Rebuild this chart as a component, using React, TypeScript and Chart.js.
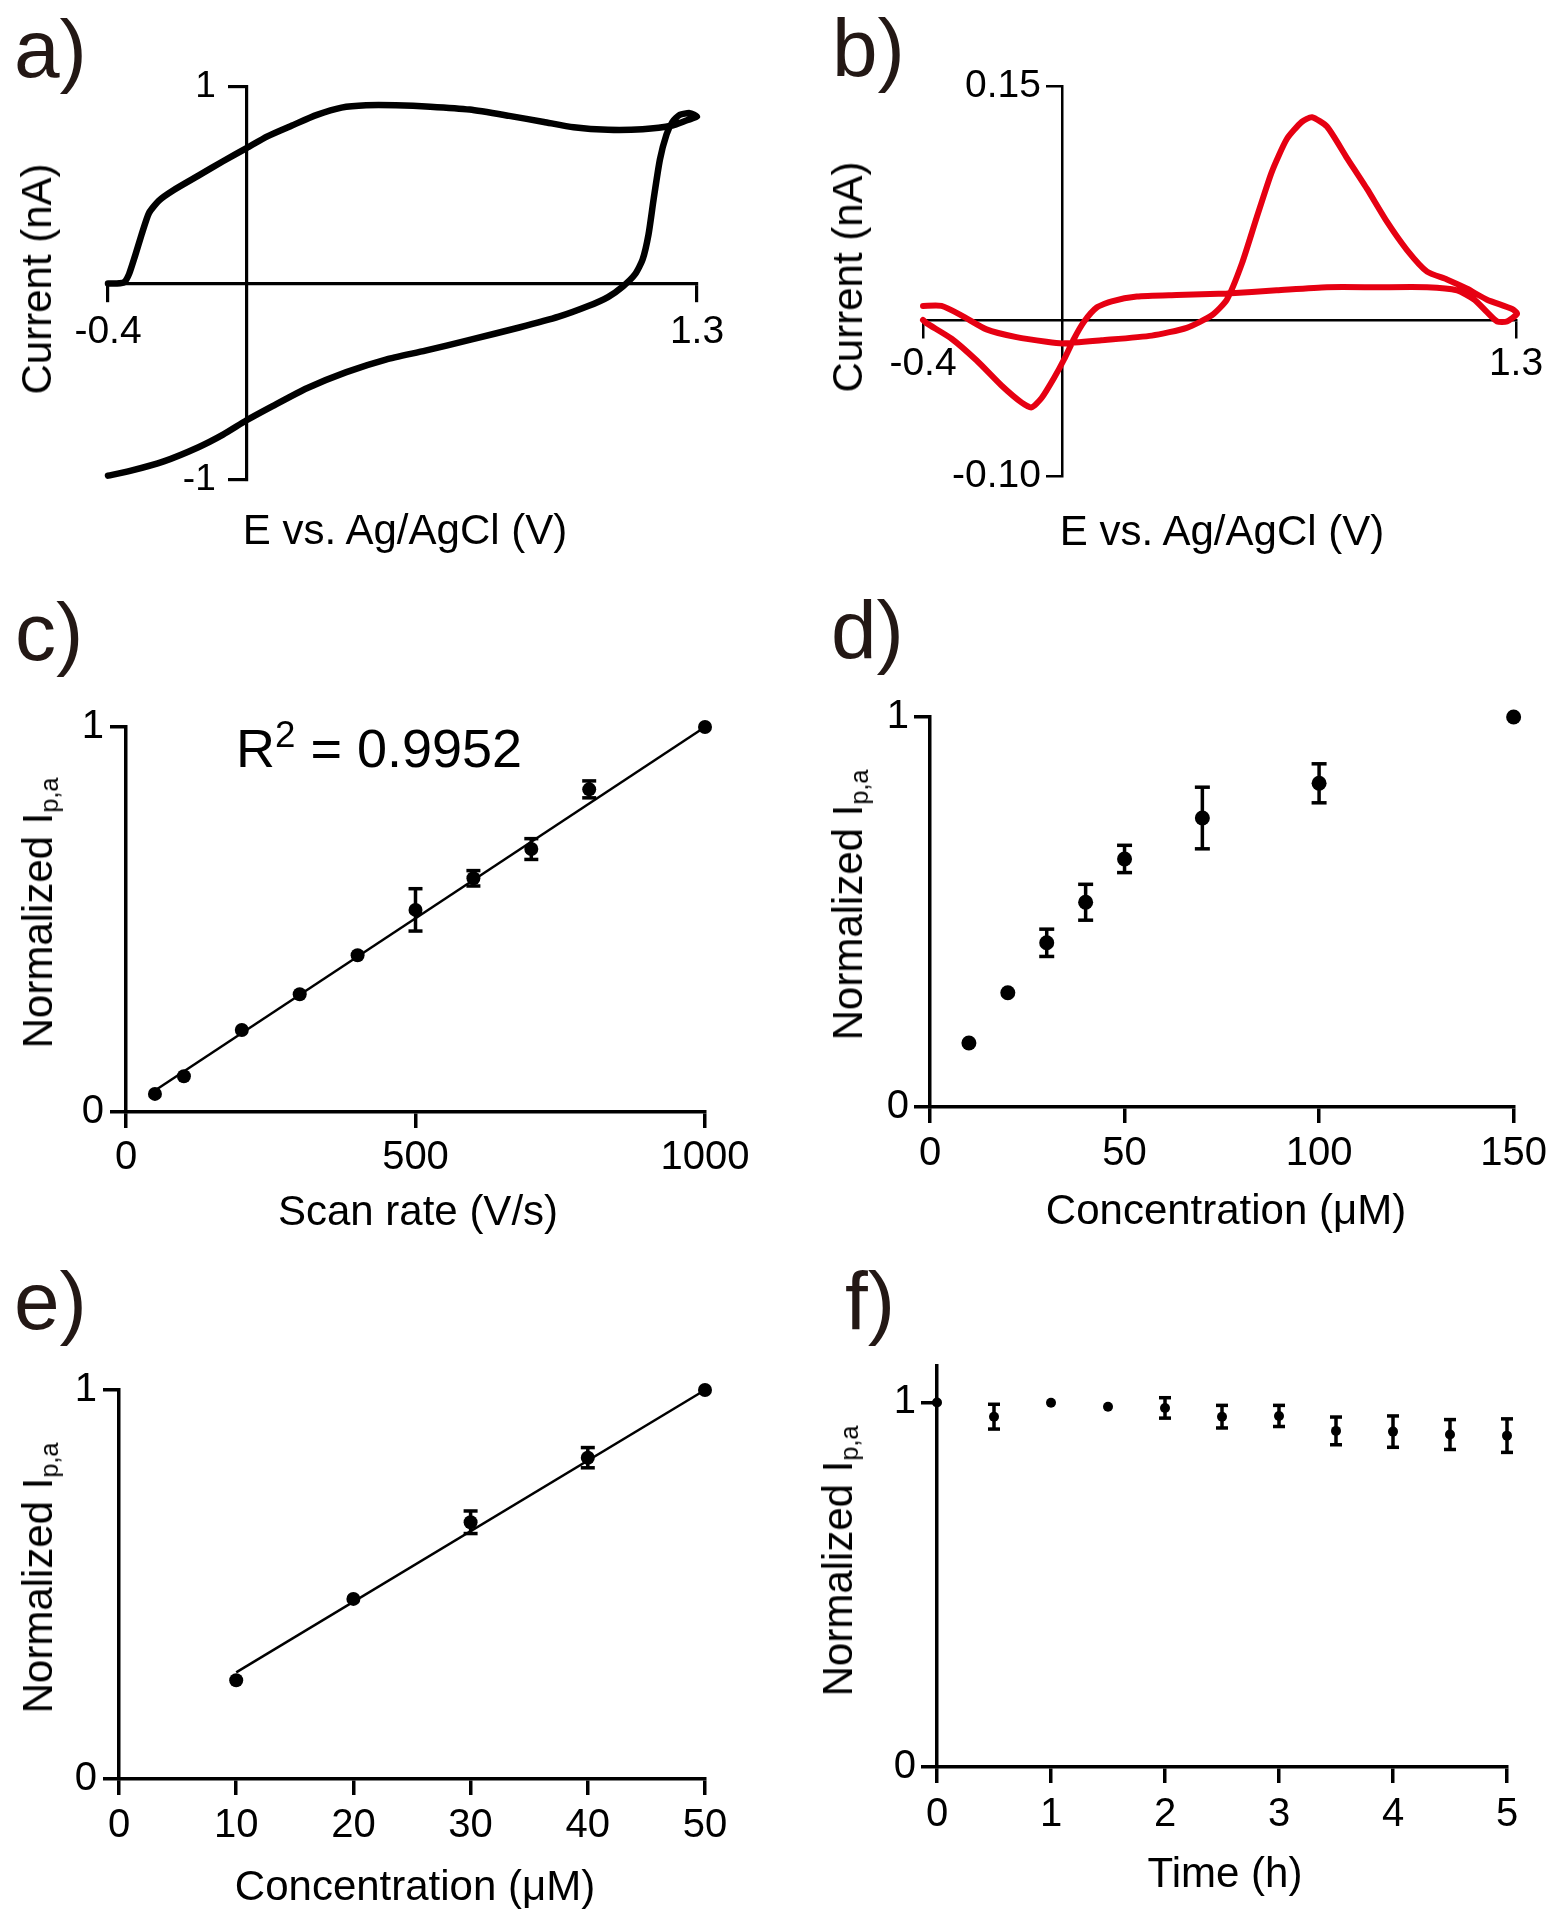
import React, { useEffect, useRef } from 'react';
import { Chart, registerables } from 'chart.js';

Chart.register(...registerables);

const FONT = '"Liberation Sans", Arial, Helvetica, sans-serif';
const INK = '#000000';
const LETTER_INK = '#231815';
const RED = '#e60012';

// ---------- Panel a: cyclic voltammogram (black) ----------
const cvA_E = [-0.400, -0.339, -0.239, -0.139, -0.068, 0.000, 0.075, 0.174, 0.288, 0.402, 0.516, 0.644, 0.787, 0.901, 0.986, 1.043, 1.086, 1.122, 1.143, 1.160, 1.175, 1.193, 1.212, 1.229, 1.250, 1.279, 1.300, 1.271, 1.229, 1.143, 1.043, 0.944, 0.858, 0.758, 0.644, 0.530, 0.431, 0.345, 0.274, 0.203, 0.131, 0.060, 0.000, -0.068, -0.139, -0.210, -0.253, -0.282, -0.303, -0.322, -0.339, -0.353, -0.374, -0.400];
const cvA_I = [-0.978, -0.955, -0.905, -0.833, -0.769, -0.696, -0.624, -0.533, -0.451, -0.387, -0.342, -0.287, -0.224, -0.169, -0.115, -0.069, -0.015, 0.049, 0.122, 0.249, 0.431, 0.631, 0.758, 0.822, 0.858, 0.867, 0.849, 0.831, 0.804, 0.785, 0.782, 0.795, 0.822, 0.853, 0.885, 0.900, 0.907, 0.907, 0.895, 0.858, 0.804, 0.749, 0.689, 0.622, 0.549, 0.476, 0.422, 0.358, 0.249, 0.140, 0.049, 0.007, 0.000, 0.000];
const aXTicks = [-0.4, 1.3];
const aXTickLabels = ['-0.4', '1.3'];
const aYTicks = [-1, 1];
const aYTickLabels = ['-1', '1'];

// ---------- Panel b: cyclic voltammogram (red) ----------
const cvB_E = [-0.40, -0.347, -0.29, -0.218, -0.132, -0.046, 0.001, 0.112, 0.256, 0.356, 0.428, 0.471, 0.514, 0.557, 0.600, 0.643, 0.686, 0.715, 0.758, 0.815, 0.873, 0.930, 0.987, 1.045, 1.102, 1.160, 1.217, 1.289, 1.303, 1.274, 1.246, 1.217, 1.181, 1.131, 1.045, 0.901, 0.758, 0.614, 0.471, 0.327, 0.213, 0.141, 0.098, 0.062, 0.033, 0.005, -0.024, -0.060, -0.089, -0.117, -0.175, -0.246, -0.318, -0.39, -0.40];
const cvB_I = [0.009, 0.009, 0.003, -0.006, -0.011, -0.014, -0.015, -0.013, -0.010, -0.005, 0.003, 0.013, 0.036, 0.066, 0.095, 0.116, 0.127, 0.130, 0.124, 0.104, 0.084, 0.063, 0.045, 0.031, 0.026, 0.020, 0.013, 0.007, 0.004, -0.001, -0.001, 0.005, 0.013, 0.019, 0.021, 0.021, 0.021, 0.019, 0.017, 0.016, 0.015, 0.012, 0.008, -0.001, -0.012, -0.025, -0.037, -0.050, -0.056, -0.053, -0.042, -0.026, -0.012, -0.002, 0.000];
const bXTicks = [-0.4, 1.3];
const bXTickLabels = ['-0.4', '1.3'];
const bYTicks = [-0.1, 0.15];
const bYTickLabels = ['-0.10', '0.15'];

// ---------- Panel c: scan rate ----------
const scanRate = [50, 100, 200, 300, 400, 500, 600, 700, 800, 1000];
const scanIpa = [0.047, 0.093, 0.213, 0.306, 0.407, 0.525, 0.607, 0.683, 0.838, 1.0];
const scanErr = [0, 0, 0, 0, 0, 0.055, 0.02, 0.027, 0.022, 0];
const scanFitX = [50, 1000];
const scanFitY = [0.056, 1.0];
const cXTicks = [0, 500, 1000];
const cXTickLabels = ['0', '500', '1000'];
const cYTicks = [0, 1];
const cYTickLabels = ['0', '1'];

// ---------- Panel d: concentration (wide range) ----------
const concD = [10, 20, 30, 40, 50, 70, 100, 150];
const ipaD = [0.164, 0.293, 0.421, 0.525, 0.636, 0.741, 0.83, 1.0];
const errD = [0, 0, 0.035, 0.046, 0.035, 0.079, 0.05, 0];
const dXTicks = [0, 50, 100, 150];
const dXTickLabels = ['0', '50', '100', '150'];
const dYTicks = [0, 1];
const dYTickLabels = ['0', '1'];

// ---------- Panel e: concentration (linear range) ----------
const concE = [10, 20, 30, 40, 50];
const ipaE = [0.254, 0.463, 0.66, 0.826, 1.0];
const errE = [0, 0, 0.029, 0.026, 0];
const concFitX = [10, 50];
const concFitY = [0.274, 1.0];
const eXTicks = [0, 10, 20, 30, 40, 50];
const eXTickLabels = ['0', '10', '20', '30', '40', '50'];
const eYTicks = [0, 1];
const eYTickLabels = ['0', '1'];

// ---------- Panel f: stability over time ----------
const timeF = [0, 0.5, 1, 1.5, 2, 2.5, 3, 3.5, 4, 4.5, 5];
const ipaF = [1.0, 0.961, 0.999, 0.988, 0.985, 0.961, 0.963, 0.922, 0.92, 0.912, 0.909];
const errF = [0, 0.034, 0, 0, 0.028, 0.031, 0.029, 0.038, 0.043, 0.041, 0.046];
const fXTicks = [0, 1, 2, 3, 4, 5];
const fXTickLabels = ['0', '1', '2', '3', '4', '5'];
const fYTicks = [0, 1];
const fYTickLabels = ['0', '1'];

// ---------- helpers ----------
const pts = (xs: number[], ys: number[]) => xs.map((x, i) => ({ x, y: ys[i] }));

function stemPts(xs: number[], ys: number[], es: number[]) {
  const out: any[] = [];
  xs.forEach((x, i) => {
    if (es[i] > 0) out.push({ x, y: ys[i] - es[i] }, { x, y: ys[i] + es[i] }, { x, y: null });
  });
  return out;
}
function capPts(xs: number[], ys: number[], es: number[]) {
  const out: any[] = [];
  xs.forEach((x, i) => {
    if (es[i] > 0) out.push({ x, y: ys[i] - es[i] }, { x, y: ys[i] + es[i] });
  });
  return out;
}

function errorSets(xs: number[], ys: number[], es: number[], r: number, capHalf: number, lw: number) {
  return [
    { data: stemPts(xs, ys, es), showLine: true, borderColor: INK, borderWidth: lw, pointRadius: 0, spanGaps: false, clip: false, borderCapStyle: 'butt' },
    { data: capPts(xs, ys, es), showLine: false, pointStyle: 'line', pointRadius: capHalf, pointBorderWidth: lw, pointBorderColor: INK, pointBackgroundColor: INK, clip: false },
    { data: pts(xs, ys), showLine: false, pointStyle: 'circle', pointRadius: r, pointBackgroundColor: INK, pointBorderWidth: 0, clip: false },
  ];
}

function fitLine(xs: number[], ys: number[], lw: number) {
  return { data: pts(xs, ys), showLine: true, borderColor: INK, borderWidth: lw, pointRadius: 0, clip: false };
}

type AxisOpts = {
  min: number; max: number; position: any; values: number[]; labels: string[];
  fontSize: number; tickLength: number; pad: number; lineWidth: number; fit?: number; horizontal: boolean;
  gap?: string;
};

function axis(o: AxisOpts) {
  return {
    type: 'linear',
    min: o.min,
    max: o.max,
    position: o.position,
    afterBuildTicks: (s: any) => { s.ticks = o.values.map((v) => ({ value: v })); },
    afterFit: (s: any) => {
      if (o.fit === undefined) return;
      if (o.horizontal) s.height = o.fit; else s.width = o.fit;
    },
    grid: { display: true, drawOnChartArea: false, drawTicks: true, tickLength: o.tickLength, tickWidth: o.lineWidth, tickColor: INK, color: INK, lineWidth: o.lineWidth },
    border: { display: true, color: INK, width: o.lineWidth },
    ticks: {
      color: INK,
      font: { family: FONT, size: o.fontSize, lineHeight: 1.2 },
      padding: o.pad,
      autoSkip: false,
      maxRotation: 0,
      minRotation: 0,
      // value-positioned y axes draw their labels flush with the axis line,
      // so a trailing gap keeps them clear of the tick marks
      callback: (_v: any, i: number) => o.labels[i] + (o.gap || ''),
    },
    title: { display: false },
  };
}

function baseOptions(padding: any, scales: any) {
  return {
    animation: false,
    responsive: false,
    maintainAspectRatio: false,
    devicePixelRatio: 1,
    events: [],
    layout: { padding },
    plugins: { legend: { display: false }, tooltip: { enabled: false }, title: { display: false } },
    scales,
  };
}

type Rect = { left: number; top: number; width: number; height: number };

function ChartCanvas({ rect, build }: { rect: Rect; build: () => any }) {
  const ref = useRef<HTMLCanvasElement | null>(null);
  useEffect(() => {
    const chart = new Chart(ref.current as HTMLCanvasElement, build());
    return () => chart.destroy();
  }, []);
  return (
    <canvas
      ref={ref}
      width={rect.width}
      height={rect.height}
      style={{ position: 'absolute', left: rect.left, top: rect.top, width: rect.width, height: rect.height }}
    />
  );
}

// ---------- chart configs ----------
const buildA = () => ({
  type: 'scatter',
  data: {
    datasets: [
      { data: pts(cvA_E, cvA_I), showLine: true, borderColor: INK, borderWidth: 6.5, pointRadius: 0, tension: 0.2, clip: false, borderCapStyle: 'round', borderJoinStyle: 'round' },
    ],
  },
  options: baseOptions({ left: 108, right: 80, top: 87, bottom: 100 }, {
    x: axis({ min: -0.4, max: 1.3, position: { y: 0 }, values: aXTicks, labels: aXTickLabels, fontSize: 39, tickLength: 17, pad: 8, lineWidth: 3.2, horizontal: true }),
    y: axis({ min: -1, max: 1, position: { x: 0 }, values: aYTicks, labels: aYTickLabels, fontSize: 37, tickLength: 17, pad: 12, lineWidth: 3.2, horizontal: false, gap: '   ' }),
  }),
});

const buildB = () => ({
  type: 'scatter',
  data: {
    datasets: [
      { data: pts(cvB_E, cvB_I), showLine: true, borderColor: RED, borderWidth: 6, pointRadius: 0, tension: 0.2, clip: false, borderCapStyle: 'round', borderJoinStyle: 'round' },
    ],
  },
  options: baseOptions({ left: 146, right: 38, top: 86, bottom: 104 }, {
    x: axis({ min: -0.4, max: 1.3, position: { y: 0 }, values: bXTicks, labels: bXTickLabels, fontSize: 39, tickLength: 17, pad: 4, lineWidth: 2.5, horizontal: true }),
    y: axis({ min: -0.1, max: 0.15, position: { x: 0 }, values: bYTicks, labels: bYTickLabels, fontSize: 39, tickLength: 15, pad: 9, lineWidth: 2.5, horizontal: false, gap: '  ' }),
  }),
});

const buildC = () => ({
  type: 'scatter',
  data: {
    datasets: [fitLine(scanFitX, scanFitY, 2.5), ...errorSets(scanRate, scanIpa, scanErr, 7, 7, 3.5)],
  },
  options: baseOptions({ left: 0, right: 72, top: 137, bottom: 58 }, {
    x: axis({ min: 0, max: 1000, position: 'bottom', values: cXTicks, labels: cXTickLabels, fontSize: 40, tickLength: 16, pad: 6, lineWidth: 3.5, fit: 70, horizontal: true }),
    y: axis({ min: 0, max: 1, position: 'left', values: cYTicks, labels: cYTickLabels, fontSize: 40, tickLength: 16, pad: 6, lineWidth: 3.5, fit: 126, horizontal: false }),
  }),
});

const buildD = () => ({
  type: 'scatter',
  data: { datasets: [...errorSets(concD, ipaD, errD, 7.5, 7.5, 3.5)] },
  options: baseOptions({ left: 0, right: 37, top: 127, bottom: 63 }, {
    x: axis({ min: 0, max: 150, position: 'bottom', values: dXTicks, labels: dXTickLabels, fontSize: 40, tickLength: 16, pad: 7, lineWidth: 3.5, fit: 70, horizontal: true }),
    y: axis({ min: 0, max: 1, position: 'left', values: dYTicks, labels: dYTickLabels, fontSize: 40, tickLength: 16, pad: 5, lineWidth: 3.5, fit: 153, horizontal: false }),
  }),
});

const buildE = () => ({
  type: 'scatter',
  data: {
    datasets: [fitLine(concFitX, concFitY, 2.5), ...errorSets(concE, ipaE, errE, 7, 7, 3.5)],
  },
  options: baseOptions({ left: 0, right: 72, top: 130, bottom: 71 }, {
    x: axis({ min: 0, max: 50, position: 'bottom', values: eXTicks, labels: eXTickLabels, fontSize: 40, tickLength: 16, pad: 7, lineWidth: 3.5, fit: 70, horizontal: true }),
    y: axis({ min: 0, max: 1, position: 'left', values: eYTicks, labels: eYTickLabels, fontSize: 40, tickLength: 16, pad: 6, lineWidth: 3.5, fit: 119, horizontal: false }),
  }),
});

const buildF = () => ({
  type: 'scatter',
  data: { datasets: [...errorSets(timeF, ipaF, errF, 5, 6, 3.5)] },
  options: baseOptions({ left: 0, right: 47, top: 106, bottom: 83 }, {
    x: axis({ min: 0, max: 5, position: 'bottom', values: fXTicks, labels: fXTickLabels, fontSize: 40, tickLength: 16, pad: 8, lineWidth: 3.5, fit: 70, horizontal: true }),
    y: axis({ min: 0, max: 1.1, position: 'left', values: fYTicks, labels: fYTickLabels, fontSize: 40, tickLength: 16, pad: 5, lineWidth: 3.5, fit: 160, horizontal: false }),
  }),
});

// ---------- text overlays ----------
function Txt({ cx, cy, size, rotate = false, children }: { cx: number; cy: number; size: number; rotate?: boolean; children: any }) {
  return (
    <div
      style={{
        position: 'absolute', left: cx, top: cy,
        transform: `translate(-50%, -50%)${rotate ? ' rotate(-90deg)' : ''}`,
        fontSize: size, lineHeight: 1, whiteSpace: 'nowrap', fontFamily: FONT, color: INK,
      }}
    >
      {children}
    </div>
  );
}

function Letter({ left, top, text }: { left: number; top: number; text: string }) {
  return (
    <div style={{ position: 'absolute', left, top, fontSize: 82, lineHeight: 1, fontFamily: FONT, color: LETTER_INK, whiteSpace: 'nowrap' }}>
      {text}
    </div>
  );
}

const subStyle: any = { fontSize: '0.6em', verticalAlign: '-0.22em', lineHeight: 0 };
const NormLabel = () => (<span>Normalized I<span style={subStyle}>p,a</span></span>);

export default function App() {
  return (
    <div style={{ position: 'absolute', left: 0, top: 0, width: 1554, height: 1920, background: '#ffffff', overflow: 'hidden', fontFamily: FONT }}>
      <ChartCanvas rect={{ left: 0, top: 0, width: 777, height: 580 }} build={buildA} />
      <ChartCanvas rect={{ left: 777, top: 0, width: 777, height: 580 }} build={buildB} />
      <ChartCanvas rect={{ left: 0, top: 590, width: 777, height: 650 }} build={buildC} />
      <ChartCanvas rect={{ left: 777, top: 590, width: 777, height: 650 }} build={buildD} />
      <ChartCanvas rect={{ left: 0, top: 1260, width: 777, height: 660 }} build={buildE} />
      <ChartCanvas rect={{ left: 777, top: 1260, width: 777, height: 660 }} build={buildF} />

      <Letter left={14} top={8} text="a)" />
      <Letter left={832} top={7} text="b)" />
      <Letter left={15} top={591} text="c)" />
      <Letter left={831} top={589} text="d)" />
      <Letter left={14} top={1260} text="e)" />
      <Letter left={845} top={1260} text="f)" />

      <Txt cx={405} cy={530} size={42}>E vs. Ag/AgCl (V)</Txt>
      <Txt cx={37} cy={279} size={42} rotate>Current (nA)</Txt>
      <Txt cx={1222} cy={531} size={42}>E vs. Ag/AgCl (V)</Txt>
      <Txt cx={848} cy={277} size={42} rotate>Current (nA)</Txt>

      <Txt cx={418} cy={1211} size={42}>Scan rate (V/s)</Txt>
      <Txt cx={38} cy={913} size={42} rotate><NormLabel /></Txt>
      <div style={{ position: 'absolute', left: 236, top: 721, fontSize: 54, lineHeight: 1, fontFamily: FONT, color: INK, whiteSpace: 'nowrap' }}>
        R<span style={{ fontSize: '0.68em', verticalAlign: '0.55em', lineHeight: 0 }}>2</span> = 0.9952
      </div>

      <Txt cx={1226} cy={1210} size={42}>Concentration (μM)</Txt>
      <Txt cx={848} cy={905} size={42} rotate><NormLabel /></Txt>

      <Txt cx={415} cy={1886} size={42}>Concentration (μM)</Txt>
      <Txt cx={38} cy={1578} size={42} rotate><NormLabel /></Txt>

      <Txt cx={1225} cy={1873} size={42}>Time (h)</Txt>
      <Txt cx={838} cy={1561} size={42} rotate><NormLabel /></Txt>
    </div>
  );
}
